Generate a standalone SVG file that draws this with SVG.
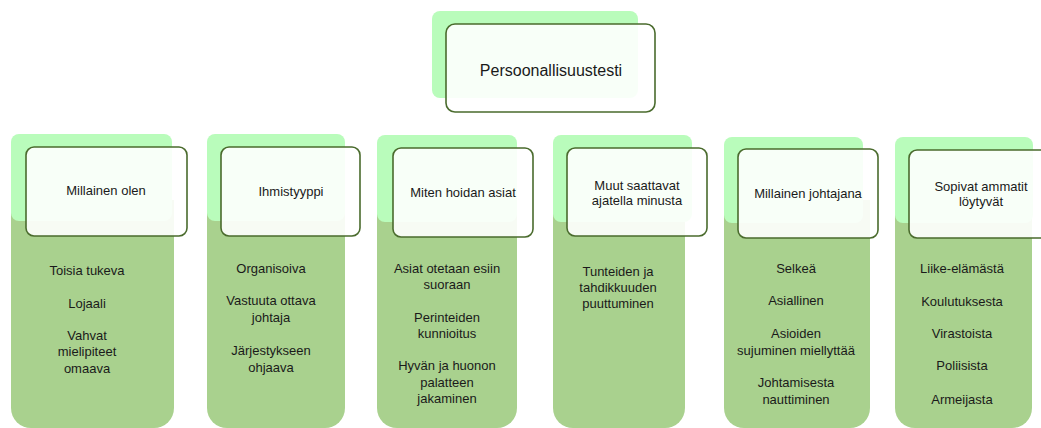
<svg xmlns="http://www.w3.org/2000/svg" width="1041" height="428" viewBox="0 0 1041 428">
<style>
.bg{fill:#b9fcbb}
.body{fill:#a9d18e}
.box{fill:#ffffff;fill-opacity:0.9;stroke:#4a6b2d;stroke-width:1.6}
text{font-family:"Liberation Sans",Arial,sans-serif;font-size:13px;fill:#1a1a1a;text-anchor:middle}
.title{font-size:16px}
</style>
<rect width="1041" height="428" fill="#ffffff"/>
<g id="connectors"></g>
<g id="root">
<rect class="bg" x="432" y="11" width="206" height="87" rx="8"/>
<rect class="box" x="446" y="24" width="209" height="88" rx="9"/>
<text class="title" x="551" y="76">Persoonallisuustesti</text>
</g>
<g id="col1">
<path class="body" d="M11 200 H174 V408 A20 20 0 0 1 154 428 H31 A20 20 0 0 1 11 408 Z"/>
<rect class="bg" x="11" y="134" width="161" height="87" rx="8"/>
<rect class="box" x="26" y="147" width="161" height="89" rx="8"/>
<text x="106" y="195">Millainen olen</text>
<text x="87" y="275">Toisia tukeva</text>
<text x="87" y="308">Lojaali</text>
<text x="87" y="340">Vahvat</text>
<text x="87" y="356">mielipiteet</text>
<text x="87" y="373">omaava</text>
</g>
<g id="col2">
<path class="body" d="M207 200 H345 V408 A20 20 0 0 1 325 428 H227 A20 20 0 0 1 207 408 Z"/>
<rect class="bg" x="207" y="134" width="138" height="87" rx="8"/>
<rect class="box" x="221" y="147" width="139" height="89" rx="8"/>
<text x="291" y="196">Ihmistyyppi</text>
<text x="271" y="273">Organisoiva</text>
<text x="271" y="305">Vastuuta ottava</text>
<text x="271" y="322">johtaja</text>
<text x="271" y="355">Järjestykseen</text>
<text x="271" y="372">ohjaava</text>
</g>
<g id="col3">
<path class="body" d="M377 200 H517 V408 A20 20 0 0 1 497 428 H397 A20 20 0 0 1 377 408 Z"/>
<rect class="bg" x="377" y="135" width="140" height="87" rx="8"/>
<rect class="box" x="393" y="148" width="140" height="89" rx="8"/>
<text x="463" y="197">Miten hoidan asiat</text>
<text x="447" y="273">Asiat otetaan esiin</text>
<text x="447" y="289">suoraan</text>
<text x="447" y="322">Perinteiden</text>
<text x="447" y="338">kunnioitus</text>
<text x="447" y="370">Hyvän ja huonon</text>
<text x="447" y="387">palatteen</text>
<text x="447" y="403">jakaminen</text>
</g>
<g id="col4">
<path class="body" d="M553 200 H685 V408 A20 20 0 0 1 665 428 H573 A20 20 0 0 1 553 408 Z"/>
<rect class="bg" x="553" y="135" width="139" height="87" rx="8"/>
<rect class="box" x="567" y="148" width="140" height="88" rx="8"/>
<text x="637" y="190">Muut saattavat</text>
<text x="637" y="205">ajatella minusta</text>
<text x="618" y="276">Tunteiden ja</text>
<text x="618" y="292">tahdikkuuden</text>
<text x="618" y="308">puuttuminen</text>
</g>
<g id="col5">
<path class="body" d="M724 200 H870 V408 A20 20 0 0 1 850 428 H744 A20 20 0 0 1 724 408 Z"/>
<rect class="bg" x="724" y="137" width="139" height="86" rx="8"/>
<rect class="box" x="738" y="149" width="140" height="89" rx="8"/>
<text x="808" y="198">Millainen johtajana</text>
<text x="796" y="273">Selkeä</text>
<text x="796" y="305">Asiallinen</text>
<text x="796" y="338">Asioiden</text>
<text x="796" y="355">sujuminen miellyttää</text>
<text x="796" y="387">Johtamisesta</text>
<text x="796" y="404">nauttiminen</text>
</g>
<g id="col6">
<path class="body" d="M895 200 H1032 V408 A20 20 0 0 1 1012 428 H915 A20 20 0 0 1 895 408 Z"/>
<rect class="bg" x="895" y="137" width="138" height="86" rx="8"/>
<rect class="box" x="909" y="150" width="142" height="88" rx="8"/>
<text x="981" y="191">Sopivat ammatit</text>
<text x="981" y="206">löytyvät</text>
<text x="962" y="273">Liike-elämästä</text>
<text x="962" y="306">Koulutuksesta</text>
<text x="962" y="338">Virastoista</text>
<text x="962" y="370">Poliisista</text>
<text x="962" y="404">Armeijasta</text>
</g>
</svg>
